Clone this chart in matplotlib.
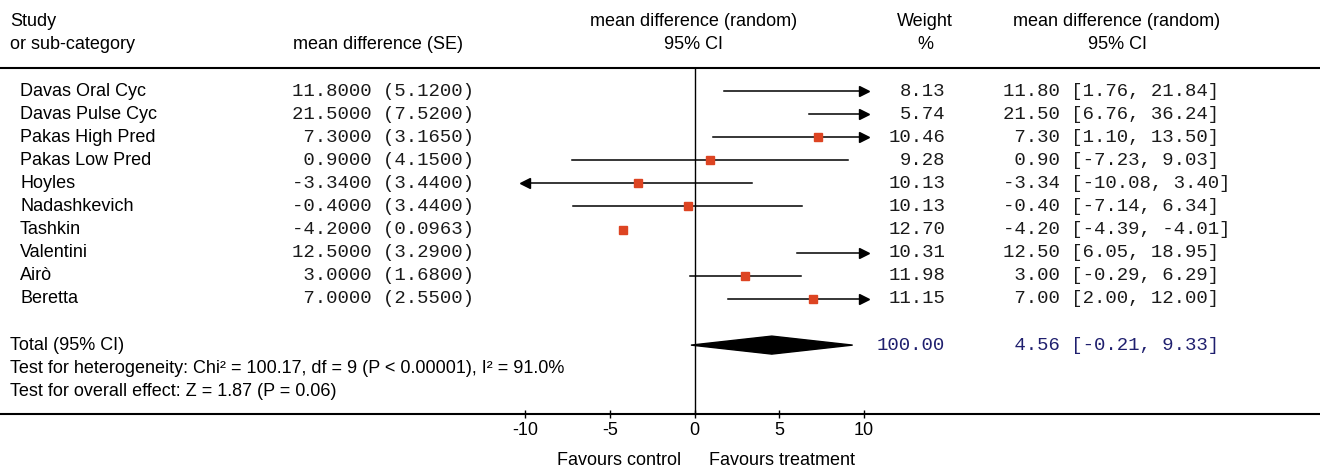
import matplotlib.pyplot as plt
from matplotlib.patches import Polygon

# data
studies = ["Davas Oral Cyc", "Davas Pulse Cyc", "Pakas High Pred", "Pakas Low Pred",
           "Hoyles", "Nadashkevich", "Tashkin", "Valentini", "Airò", "Beretta"]
md = [11.80, 21.50, 7.30, 0.90, -3.34, -0.40, -4.20, 12.50, 3.00, 7.00]
se = [5.1200, 7.5200, 3.1650, 4.1500, 3.4400, 3.4400, 0.0963, 3.2900, 1.6800, 2.5500]
ci_lo = [1.76, 6.76, 1.10, -7.23, -10.08, -7.14, -4.39, 6.05, -0.29, 2.00]
ci_hi = [21.84, 36.24, 13.50, 9.03, 3.40, 6.34, -4.01, 18.95, 6.29, 12.00]
weight = [8.13, 5.74, 10.46, 9.28, 10.13, 10.13, 12.70, 10.31, 11.98, 11.15]
total_md, total_lo, total_hi, total_weight = 4.56, -0.21, 9.33, 100.00
xticks = [-10, -5, 0, 5, 10]
xlim = (-10, 10)

# layout in pixels
W, H = 1320, 469
row0, row_h = 91, 23.1          # y of first study row, row spacing
head_px, axis_px = 68, 414      # header rule and bottom axis rule
def row(ypx):
    return (ypx - row0) / row_h

sans = "Liberation Sans"
mono = "Liberation Mono"
fs, fm = 13, 13.7
sq_col = "#dd4422"
tot_col = "#1f1f6e"
txt_col = "#1a1a1a"

fig = plt.figure(figsize=(W / 100, H / 100), dpi=100)

# full-figure axes for text, x in px, y in row units
ax_t = fig.add_axes([0, 0, 1, 1])
ax_t.set_xlim(0, W)
ax_t.set_ylim(row(H), row(0))
ax_t.axis("off")

# forest axes
x0_px, x1_px = 525, 864
ax = fig.add_axes([x0_px / W, (H - axis_px) / H, (x1_px - x0_px) / W, (axis_px - head_px) / H])
ax.set_xlim(*xlim)
ax.set_ylim(row(axis_px), row(head_px))
ax.patch.set_alpha(0)
for s in ax.spines.values():
    s.set_visible(False)
ax.set_yticks([])
ax.set_xticks(xticks)
ax.set_xticklabels([str(t) for t in xticks], fontfamily=sans, fontsize=fs)
ax.tick_params(axis="x", direction="inout", length=6, width=1, pad=3)

# header
ax_t.text(10, -3, "Study", fontfamily=sans, fontsize=fs, va="center")
ax_t.text(10, -2, "or sub-category", fontfamily=sans, fontsize=fs, va="center")
ax_t.text(378, -2, "mean difference (SE)", fontfamily=sans, fontsize=fs, va="center", ha="center")
ax_t.text(694, -3, "mean difference (random)", fontfamily=sans, fontsize=fs, va="center", ha="center")
ax_t.text(694, -2, "95% CI", fontfamily=sans, fontsize=fs, va="center", ha="center")
ax_t.text(925, -3, "Weight", fontfamily=sans, fontsize=fs, va="center", ha="center")
ax_t.text(925, -2, "%", fontfamily=sans, fontsize=fs, va="center", ha="center")
ax_t.text(1117, -3, "mean difference (random)", fontfamily=sans, fontsize=fs, va="center", ha="center")
ax_t.text(1117, -2, "95% CI", fontfamily=sans, fontsize=fs, va="center", ha="center")
ax_t.axhline(row(head_px), color="black", lw=1.5)
ax_t.axhline(row(axis_px), color="black", lw=1.5)

# zero line
ax.plot([0, 0], [row(head_px), row(axis_px)], color="black", lw=1, clip_on=False)

# study rows
for i, name in enumerate(studies):
    ax_t.text(20, i, name, fontfamily=sans, fontsize=fs, va="center")
    ax_t.text(474, i, "%7.4f (%.4f)" % (md[i], se[i]), fontfamily=mono, fontsize=fm,
              va="center", ha="right", color=txt_col)
    ax_t.text(945, i, "%.2f" % weight[i], fontfamily=mono, fontsize=fm, va="center",
              ha="right", color=txt_col)
    ax_t.text(1003, i, "%5.2f [%.2f, %.2f]" % (md[i], ci_lo[i], ci_hi[i]), fontfamily=mono,
              fontsize=fm, va="center", ha="left", color=txt_col)

    lo = max(ci_lo[i], xlim[0])
    hi = min(ci_hi[i], xlim[1])
    ax.plot([lo, hi], [i, i], color="black", lw=1.1, clip_on=False)
    if ci_hi[i] > xlim[1]:
        ax.plot(xlim[1], i, marker=">", color="black", ms=7.5, clip_on=False)
    if ci_lo[i] < xlim[0]:
        ax.plot(xlim[0], i, marker="<", color="black", ms=7.5, clip_on=False)
    if xlim[0] <= md[i] <= xlim[1]:
        ax.plot(md[i], i, marker="s", color=sq_col, ms=1.8 * weight[i] ** 0.5,
                mec=sq_col, clip_on=False, zorder=3)

# total
tr = len(studies) + 1
dh = 9 / row_h
ax.add_patch(Polygon([(total_lo, tr), (total_md, tr - dh), (total_hi, tr), (total_md, tr + dh)],
                     closed=True, color="black", clip_on=False))
ax_t.text(10, tr, "Total (95% CI)", fontfamily=sans, fontsize=fs, va="center")
ax_t.text(945, tr, "%.2f" % total_weight, fontfamily=mono, fontsize=fm, va="center",
          ha="right", color=tot_col)
ax_t.text(1003, tr, "%5.2f [%.2f, %.2f]" % (total_md, total_lo, total_hi), fontfamily=mono,
          fontsize=fm, va="center", ha="left", color=tot_col)
ax_t.text(10, tr + 1, "Test for heterogeneity: Chi² = 100.17, df = 9 (P < 0.00001), I² = 91.0%",
          fontfamily=sans, fontsize=fs, va="center")
ax_t.text(10, tr + 2, "Test for overall effect: Z = 1.87 (P = 0.06)",
          fontfamily=sans, fontsize=fs, va="center")

# favours labels
ax_t.text(681, row(460), "Favours control", fontfamily=sans, fontsize=fs, va="center", ha="right")
ax_t.text(709, row(460), "Favours treatment", fontfamily=sans, fontsize=fs, va="center", ha="left")

fig.savefig("out.png", dpi=100)
